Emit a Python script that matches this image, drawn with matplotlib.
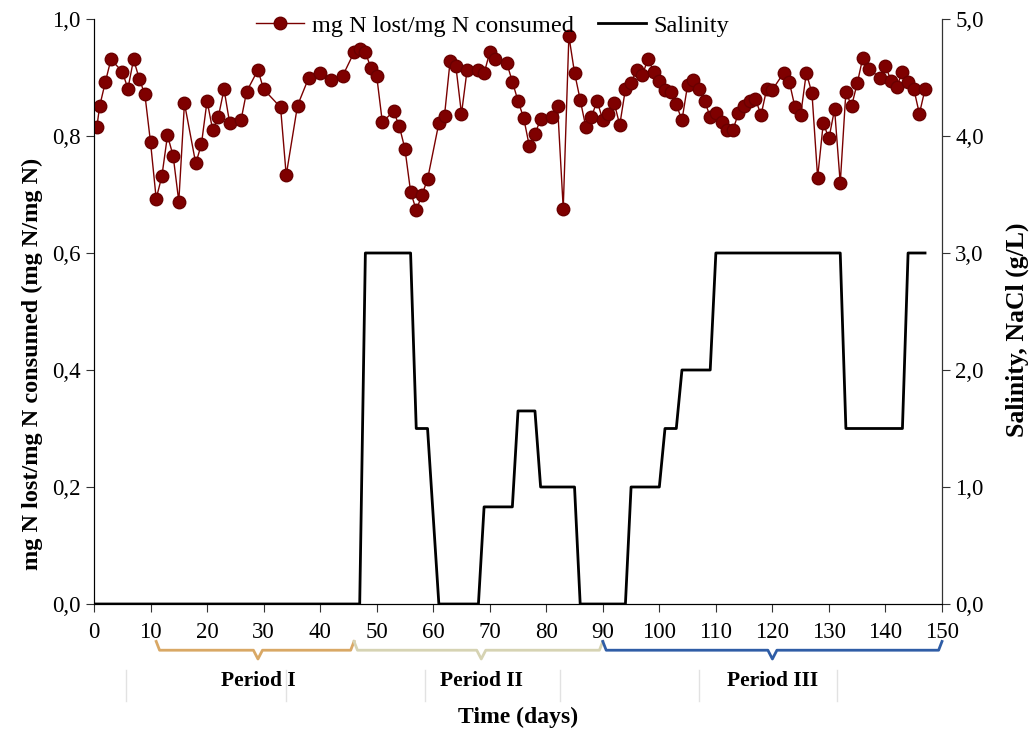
import numpy as np
import matplotlib
matplotlib.use('Agg')
import matplotlib.pyplot as plt
from matplotlib.ticker import FuncFormatter, MultipleLocator

# mg N lost / mg N consumed
days = [0.5, 1, 2, 3, 5, 6, 7, 8, 9, 10, 11, 12, 13, 14, 15, 16, 18, 19, 20, 21,
        22, 23, 24, 26, 27, 29, 30, 33, 34, 36, 38, 40, 42, 44, 46, 47, 48, 49, 50, 51,
        53, 54, 55, 56, 57, 58, 59, 61, 62, 63, 64, 65, 66, 68, 69, 70, 71, 73, 74, 75,
        76, 77, 78, 79, 81, 82, 83, 84, 85, 86, 87, 88, 89, 90, 91, 92, 93, 94, 95, 96,
        97, 98, 99, 100, 101, 102, 103, 104, 105, 106, 107, 108, 109, 110, 111, 112, 113, 114, 115, 116,
        117, 118, 119, 120, 122, 123, 124, 125, 126, 127, 128, 129, 130, 131, 132, 133, 134, 135, 136, 137,
        139, 140, 141, 142, 143, 144, 145, 146, 147]
ratio = [0.815, 0.851, 0.892, 0.931, 0.910, 0.881, 0.931, 0.898, 0.871, 0.789, 0.693, 0.731, 0.801, 0.766, 0.688, 0.856, 0.753, 0.786, 0.860, 0.810,
         0.833, 0.880, 0.822, 0.827, 0.876, 0.913, 0.880, 0.849, 0.733, 0.852, 0.900, 0.908, 0.896, 0.903, 0.943, 0.948, 0.943, 0.916, 0.903, 0.824,
         0.842, 0.817, 0.778, 0.705, 0.673, 0.699, 0.726, 0.822, 0.835, 0.929, 0.920, 0.838, 0.913, 0.913, 0.907, 0.943, 0.931, 0.925, 0.893, 0.860,
         0.831, 0.783, 0.803, 0.829, 0.832, 0.851, 0.676, 0.971, 0.908, 0.862, 0.815, 0.833, 0.860, 0.827, 0.838, 0.857, 0.819, 0.880, 0.891, 0.913,
         0.904, 0.932, 0.910, 0.894, 0.879, 0.876, 0.854, 0.827, 0.887, 0.895, 0.881, 0.860, 0.833, 0.839, 0.824, 0.810, 0.810, 0.839, 0.851, 0.859,
         0.863, 0.836, 0.881, 0.879, 0.908, 0.892, 0.849, 0.836, 0.908, 0.873, 0.729, 0.822, 0.796, 0.846, 0.719, 0.876, 0.851, 0.890, 0.934, 0.915,
         0.900, 0.920, 0.894, 0.884, 0.910, 0.892, 0.881, 0.838, 0.880]

# salinity profile (g/L NaCl)
sal_days = [0, 47, 48, 56, 57, 59, 61, 68, 69, 74, 75, 78, 79, 85, 86, 94, 95, 100, 101, 103,
            104, 109, 110, 132, 133, 143, 144, 147]
salinity = [0, 0, 3, 3, 1.5, 1.5, 0, 0, 0.83, 0.83, 1.65, 1.65, 1.0, 1.0, 0, 0, 1.0, 1.0, 1.5, 1.5,
            2.0, 2.0, 3, 3, 1.5, 1.5, 3, 3]

periods = ['Period I', 'Period II', 'Period III']
period_start = [11, 46, 90]
period_end = [46, 90, 150]
period_mid = [29, 68.5, 120]
period_colors = ['#d9a865', '#d6d3b3', '#2f5da6']

plt.rcParams['font.family'] = ['Liberation Serif', 'DejaVu Serif']

fig = plt.figure(figsize=(10.36, 7.31), dpi=100)
ax = fig.add_axes([94 / 1036, 1 - 604 / 731, (942 - 94) / 1036, 585 / 731])
ax2 = ax.twinx()

l1, = ax.plot(days, ratio, color='#7a0000', lw=1, marker='o', ms=9,
              mfc='#7f0000', mec='#6a0000', label='mg N lost/mg N consumed', zorder=3)
l2, = ax2.plot(sal_days, salinity, color='black', lw=2, label='Salinity')

comma = lambda fmt: FuncFormatter(lambda v, p: (fmt % v).replace('.', ','))
ax.set_xlim(0, 150)
ax.set_ylim(0, 1.0)
ax2.set_ylim(0, 5.0)
ax.xaxis.set_major_locator(MultipleLocator(10))
ax.yaxis.set_major_locator(MultipleLocator(0.2))
ax2.yaxis.set_major_locator(MultipleLocator(1))
ax.yaxis.set_major_formatter(comma('%.1f'))
ax2.yaxis.set_major_formatter(comma('%.1f'))

for a in (ax, ax2):
    a.spines['top'].set_visible(False)
    a.tick_params(direction='out', length=6, labelsize=16.5, color='#333333')
ax.tick_params(axis='x', pad=7)
ax.spines['left'].set_color('#333333')
ax2.spines['right'].set_color('#333333')

ax.set_ylabel('mg N lost/mg N consumed (mg N/mg N)', fontsize=17.5, fontweight='bold')
ax.yaxis.set_label_coords(-0.06, 0.41)
ax2.set_ylabel('Salinity, NaCl (g/L)', fontsize=18.5, fontweight='bold')
ax2.yaxis.set_label_coords(1.075, 0.468)
ax.set_xlabel('Time (days)', fontsize=17, fontweight='bold', labelpad=46)

ax.legend(handles=[l1, l2], loc='upper center', bbox_to_anchor=(0.47, 1.045), ncol=2,
          frameon=False, fontsize=17.5, handlelength=2.0, handletextpad=0.3, columnspacing=1.0)

# period braces under the axis
tr = ax.get_xaxis_transform()
for name, x0, x1, xm, c in zip(periods, period_start, period_end, period_mid, period_colors):
    yb, yh, yt = -0.079, -0.064, -0.094
    bx = [x0, x0 + 0.6, xm - 0.8, xm, xm + 0.8, x1 - 0.6, x1]
    by = [yh, yb, yb, yt, yb, yb, yh]
    ax.plot(bx, by, color=c, lw=2, transform=tr, clip_on=False)
    ax.text(xm, -0.131, name, transform=tr, ha='center', va='center',
            fontsize=15.5, fontweight='bold')

# faint separators
for x in [5.6, 34, 58.5, 82.5, 107, 131.5]:
    ax.plot([x, x], [-0.113, -0.165], color='#e2e2e2', lw=1, transform=tr, clip_on=False)

fig.savefig('out.png', dpi=100)
